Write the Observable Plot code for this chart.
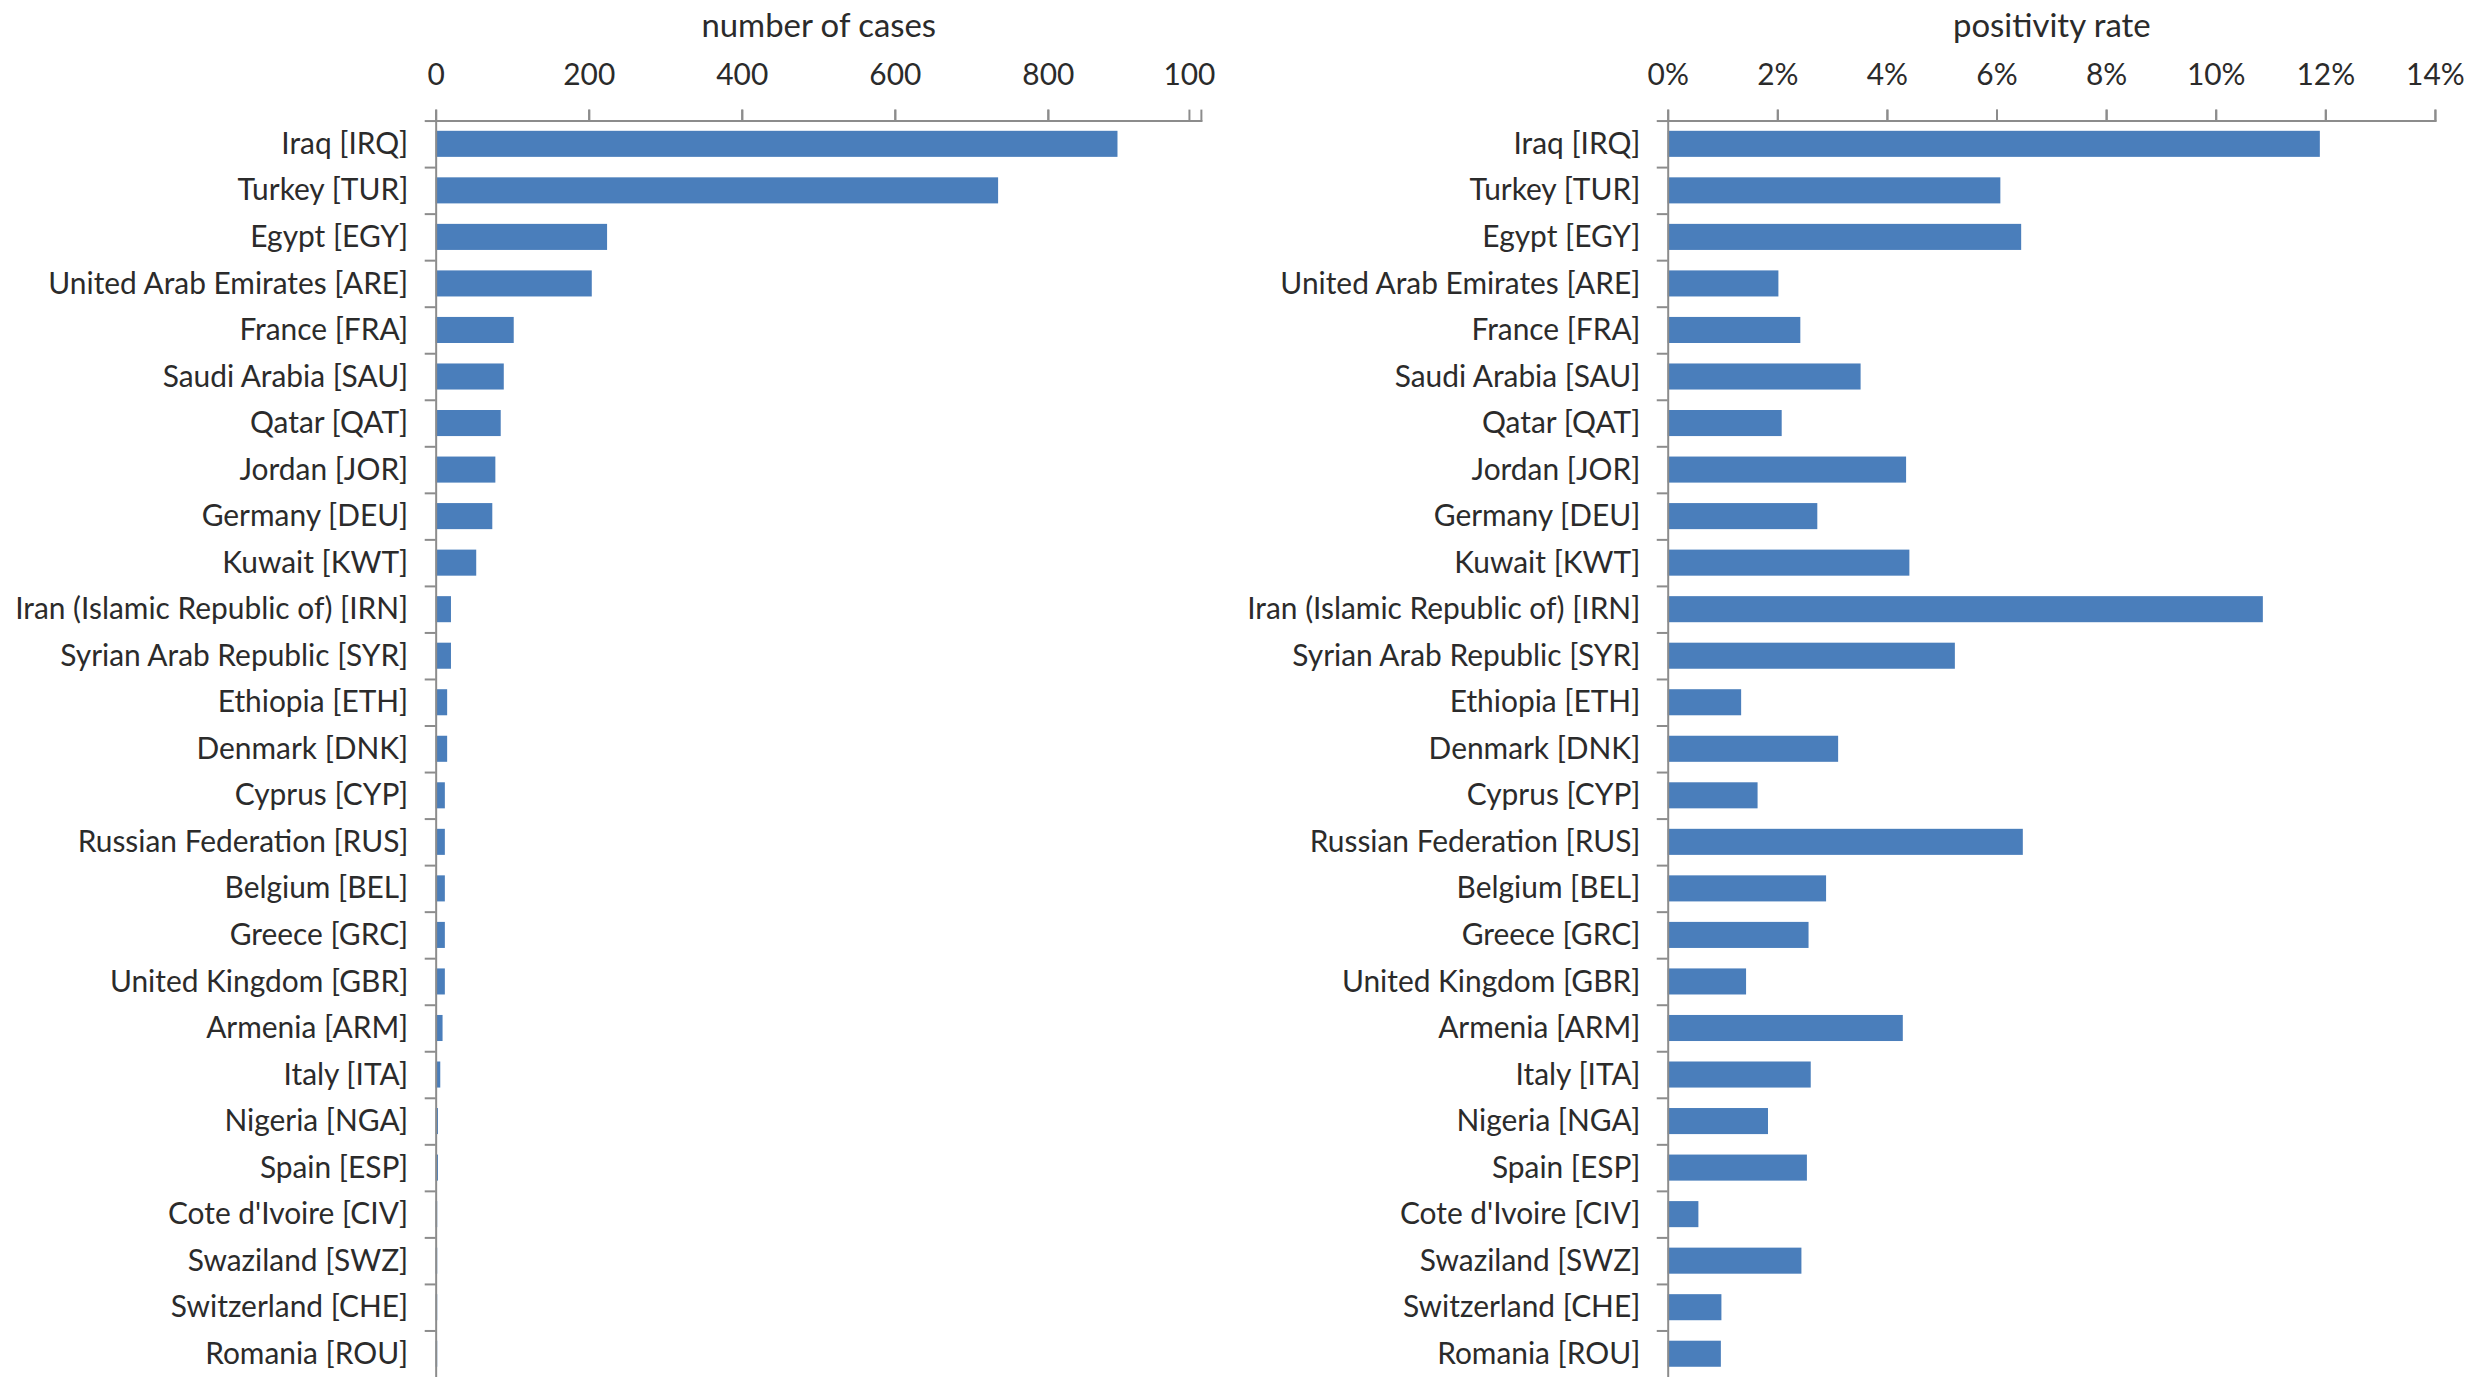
<!DOCTYPE html>
<html><head><meta charset="utf-8">
<script src="https://cdn.jsdelivr.net/npm/d3@7"></script>
<script src="https://cdn.jsdelivr.net/npm/@observablehq/plot@0.6"></script>
<style>
html,body{margin:0;padding:0;background:#fff;overflow:hidden;}
#wrap{display:flex;width:2483px;height:1377px;overflow:hidden;}
#wrap svg{overflow:visible;background:none;flex:none;}
</style></head><body><div id="wrap"></div>
<script>
const countries = ["Iraq [IRQ]","Turkey [TUR]","Egypt [EGY]","United Arab Emirates [ARE]","France [FRA]","Saudi Arabia [SAU]","Qatar [QAT]","Jordan [JOR]","Germany [DEU]","Kuwait [KWT]","Iran (Islamic Republic of) [IRN]","Syrian Arab Republic [SYR]","Ethiopia [ETH]","Denmark [DNK]","Cyprus [CYP]","Russian Federation [RUS]","Belgium [BEL]","Greece [GRC]","United Kingdom [GBR]","Armenia [ARM]","Italy [ITA]","Nigeria [NGA]","Spain [ESP]","Cote d'Ivoire [CIV]","Swaziland [SWZ]","Switzerland [CHE]","Romania [ROU]"];
const cases = [891,735,224,204,102,89,85,78,74,53,20,20,15,15,12,12,12,12,12,9,6,3,3,2,2,2,2];
const positivity = [11.9,6.07,6.45,2.02,2.42,3.52,2.08,4.35,2.73,4.41,10.86,5.24,1.34,3.11,1.64,6.48,2.89,2.57,1.43,4.29,2.61,1.83,2.54,0.56,2.44,0.98,0.97];
const casesTicks = [0,200,400,600,800,1000];
const casesTickLabels = ["0","200","400","600","800","100"];
const rateTicks = [0,2,4,6,8,10,12,14];
const rateTickLabels = ["0%","2%","4%","6%","8%","10%","12%","14%"];
const titles = ["number of cases","positivity rate"];

const BLUE = "#4a7ebb", GREY = "#8c8c8c", INK = "#2b2b2b";
const FONT = "Lato, 'Open Sans', sans-serif";

function panel({values, ticks, labels, title, width, marginLeft, marginRight, shiftLast}) {
  const H = 1382, mt = 121, mb = 0;
  const step = (H - mt - mb) / countries.length;
  const data = countries.map((c, i) => ({country: c, value: values[i]}));
  const fmt = t => labels[ticks.indexOf(t)];
  const mainTicks = shiftLast ? ticks.slice(0, -1) : ticks;
  const marks = [
    Plot.barX(data, {x: "value", y: "country", fill: BLUE}),
    Plot.ruleX([ticks[0]], {stroke: GREY, strokeWidth: 2}),
    Plot.axisX({anchor: "top", ticks: ticks, tickFormat: () => "", tickSize: 12, stroke: GREY, strokeWidth: 2, label: null}),
    Plot.axisX({anchor: "top", ticks: mainTicks, tickFormat: fmt, tickSize: 12, tickPadding: 24, stroke: GREY, strokeWidth: 2, fill: INK, fontSize: 30, label: null}),
    Plot.axisY({anchor: "left", tickSize: 11, tickFormat: () => "", dy: -step / 2, stroke: GREY, strokeWidth: 2, label: null}),
    Plot.axisY({anchor: "left", tickSize: 0, tickPadding: 28, fill: INK, fontSize: 30, label: null}),
    Plot.text([title], {frameAnchor: "top", dy: -108, fontSize: 33, fill: INK})
  ];
  if (shiftLast) marks.push(Plot.axisX({anchor: "top", ticks: ticks.slice(-1), tickFormat: fmt, tickSize: 12, tickPadding: 24, dx: -12, stroke: GREY, strokeWidth: 2, fill: INK, fontSize: 30, label: null}));
  marks.push(Plot.frame({anchor: "top", stroke: GREY, strokeWidth: 2}));
  return Plot.plot({
    width, height: H, marginTop: mt, marginBottom: mb, marginLeft, marginRight,
    style: {fontFamily: FONT, fontSize: "30px", color: INK, background: "none", overflow: "visible"},
    x: {domain: [ticks[0], ticks[ticks.length - 1]]},
    y: {domain: countries, paddingInner: 0.44, paddingOuter: 0.22, round: false},
    marks
  });
}

const wrap = document.getElementById("wrap");
wrap.appendChild(panel({values: cases, ticks: casesTicks, labels: casesTickLabels, title: titles[0], width: 1240, marginLeft: 435, marginRight: 37, shiftLast: true}));
wrap.appendChild(panel({values: positivity, ticks: rateTicks, labels: rateTickLabels, title: titles[1], width: 1243, marginLeft: 427, marginRight: 46, shiftLast: false}));
</script></body></html>
